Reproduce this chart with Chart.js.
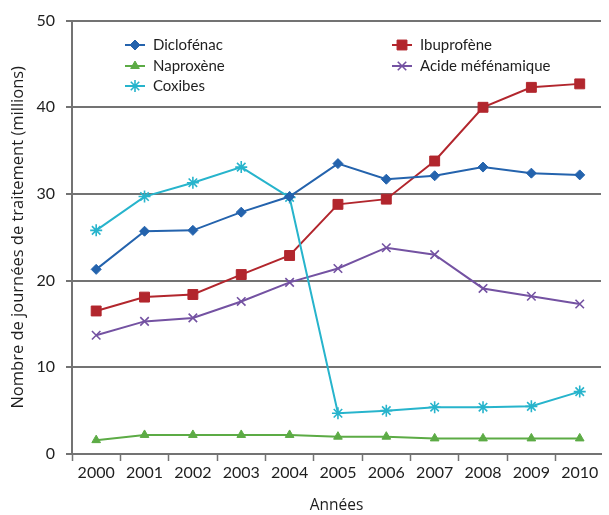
<!DOCTYPE html>
<html>
<head>
<meta charset="utf-8">
<title>Journées de traitement</title>
<script src="https://cdn.jsdelivr.net/npm/chart.js@4.4.1/dist/chart.umd.min.js"></script>
<style type="text/css">
	html, body { margin: 0; padding: 0; background: #fff; overflow: hidden; }
	#graphContainer { position: relative; width: 609px; height: 515px; }
</style>
</head>
<body>

	<div id="graphContainer">
		<canvas id="lineChart" width="609" height="515"></canvas>
	</div>

	<script type="text/javascript">

	// values (millions of treatment days)
	var years = [2000, 2001, 2002, 2003, 2004, 2005, 2006, 2007, 2008, 2009, 2010];
	var yTicks = [0, 10, 20, 30, 40, 50];
	var diclofenac = [21.3, 25.7, 25.8, 27.9, 29.7, 33.5, 31.7, 32.1, 33.1, 32.4, 32.2];
	var naproxene = [1.6, 2.2, 2.2, 2.2, 2.2, 2.0, 2.0, 1.8, 1.8, 1.8, 1.8];
	var coxibes = [25.8, 29.7, 31.3, 33.1, 29.6, 4.7, 5.0, 5.4, 5.4, 5.5, 7.2];
	var ibuprofene = [16.5, 18.1, 18.4, 20.7, 22.9, 28.8, 29.4, 33.8, 40.0, 42.3, 42.7];
	var acideMefenamique = [13.7, 15.3, 15.7, 17.6, 19.8, 21.4, 23.8, 23.0, 19.1, 18.2, 17.3];

	var gridGrey = '#737373';
	var textFont = 'Lato, "Open Sans", sans-serif';
	var titleFont = '"Open Sans", Lato, sans-serif';

	function points(values) {
		return years.map(function (y, i) { return { x: y, y: values[i] }; });
	}

	function makeSet(label, values, color, style, radius) {
		return {
			label: label,
			data: points(values),
			borderColor: color,
			backgroundColor: color,
			borderWidth: 2,
			pointStyle: style,
			pointRadius: radius,
			pointHoverRadius: radius,
			pointBorderWidth: (style === 'star' || style === 'crossRot') ? 1.6 : 1,
			tension: 0
		};
	}

	// legend drawn inside the plot, two columns like the original
	var legendSpots = [
		{ x: 135, y: 45 }, { x: 135, y: 66 }, { x: 135, y: 86 },
		{ x: 402, y: 45 }, { x: 402, y: 66 }
	];

	var insideLegend = {
		id: 'insideLegend',
		afterDraw: function (chart) {
			var ctx = chart.ctx;
			ctx.save();
			chart.data.datasets.forEach(function (ds, i) {
				var spot = legendSpots[i];
				ctx.strokeStyle = ds.borderColor;
				ctx.fillStyle = ds.backgroundColor;
				ctx.lineWidth = 2;
				ctx.beginPath();
				ctx.moveTo(spot.x - 10, spot.y);
				ctx.lineTo(spot.x + 10, spot.y);
				ctx.stroke();
				ctx.lineWidth = ds.pointBorderWidth;
				Chart.helpers.drawPoint(ctx, {
					pointStyle: ds.pointStyle,
					radius: ds.pointRadius,
					rotation: 0,
					borderWidth: ds.pointBorderWidth
				}, spot.x, spot.y);
				ctx.fillStyle = '#1e1e1e';
				ctx.font = '15px ' + textFont;
				ctx.textBaseline = 'middle';
				ctx.textAlign = 'left';
				ctx.fillText(ds.label, spot.x + 18, spot.y);
			});
			ctx.restore();
		}
	};

	var ctx = document.getElementById('lineChart').getContext('2d');

	var chartJS = new Chart(ctx, {
		type: 'line',
		data: {
			datasets: [
				makeSet('Diclofénac', diclofenac, '#2463ad', 'rectRot', 5),
				makeSet('Naproxène', naproxene, '#5cab45', 'triangle', 5),
				makeSet('Coxibes', coxibes, '#27b4cc', 'star', 6),
				makeSet('Ibuprofène', ibuprofene, '#b2262d', 'rect', 7),
				makeSet('Acide méfénamique', acideMefenamique, '#7452a2', 'crossRot', 6)
			]
		},
		options: {
			responsive: false,
			animation: false,
			layout: { padding: { top: 20, right: 0, bottom: 0, left: 0 } },
			plugins: {
				legend: { display: false },
				tooltip: { enabled: false }
			},
			scales: {
				x: {
					type: 'linear',
					min: years[0] - 0.5,
					max: years[years.length - 1] + 0.44,
					afterBuildTicks: function (scale) {
						var t = [];
						years.forEach(function (y) {
							t.push({ value: y - 0.5 });
							t.push({ value: y });
						});
						scale.ticks = t;
					},
					afterFit: function (scale) { scale.height = 61; },
					border: { display: true, color: gridGrey, width: 2 },
					grid: {
						drawOnChartArea: false,
						drawTicks: true,
						tickLength: 7,
						tickWidth: 1.5,
						tickColor: function (c) {
							return Number.isInteger(c.tick.value) ? 'rgba(0,0,0,0)' : gridGrey;
						}
					},
					ticks: {
						autoSkip: false,
						maxRotation: 0,
						padding: 2,
						color: '#1e1e1e',
						font: { size: 16, family: textFont },
						callback: function (v) { return Number.isInteger(v) ? String(v) : ''; }
					},
					title: {
						display: true,
						text: 'Années',
						color: '#1e1e1e',
						padding: { top: 0, bottom: 0 },
						font: { size: 15.5, family: titleFont }
					}
				},
				y: {
					min: yTicks[0],
					max: yTicks[yTicks.length - 1],
					afterBuildTicks: function (scale) {
						scale.ticks = yTicks.map(function (v) { return { value: v }; });
					},
					afterFit: function (scale) { scale.width = 72; },
					border: { display: true, color: gridGrey, width: 2 },
					grid: {
						color: gridGrey,
						lineWidth: 2,
						drawTicks: true,
						tickLength: 6,
						tickWidth: 2
					},
					ticks: {
						padding: 11,
						color: '#1e1e1e',
						font: { size: 16, family: textFont }
					},
					title: {
						display: true,
						text: 'Nombre de journées de traitement (millions)',
						color: '#1e1e1e',
						padding: { top: 8, bottom: 0 },
						font: { size: 16.5, family: titleFont }
					}
				}
			}
		},
		plugins: [insideLegend]
	});

	</script>

</body>
</html>
